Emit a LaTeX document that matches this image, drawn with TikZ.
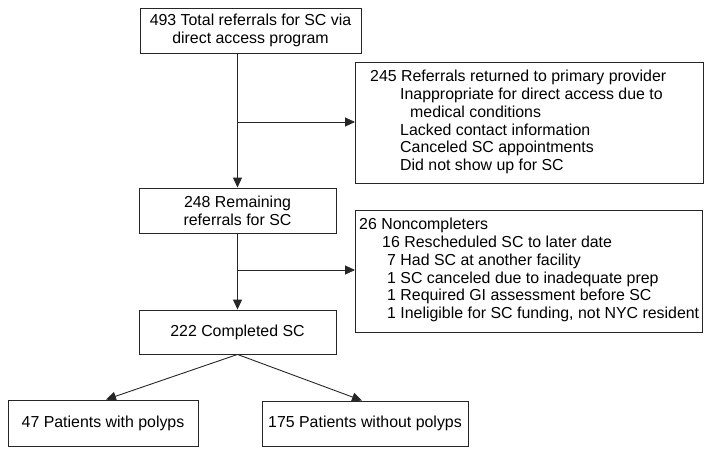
\documentclass[tikz,border=0pt]{standalone}
\usepackage{fontspec}
\setmainfont{Liberation Sans}
\usetikzlibrary{arrows.meta}
\begin{document}
\begin{tikzpicture}[x=1pt,y=1pt,
  every node/.style={font=\fontsize{15.9}{17.8}\selectfont},
  box/.style={draw=black!85, line width=0.9pt, inner sep=0pt, align=center},
  conn/.style={draw=black!85, line width=0.9pt, -{Triangle[length=10pt,width=9pt]}},
  plain/.style={draw=black!85, line width=0.9pt}]
\useasboundingbox (0,0) rectangle (713,-455);
% boxes: given by pixel extents
\node[box, minimum width=221, minimum height=45] (total) at (250.5,-30.5) {493 Total referrals for SC via\\direct access program};
\node[box, minimum width=348, minimum height=121, align=left, anchor=north west] (ret) at (355,-62) {};
\node[anchor=north west, align=left, inner sep=0pt] (rettext) at (370,-70) {245 Referrals returned to primary provider\\
\hspace*{30pt}Inappropriate for direct access due to\\
\hspace*{40pt}medical conditions\\
\hspace*{30pt}Lacked contact information\\
\hspace*{30pt}Canceled SC appointments\\
\hspace*{30pt}Did not show up for SC};
\node[box, minimum width=197, minimum height=45] (remain) at (237.5,-210.5) {248 Remaining\\referrals for SC};
\node[box, minimum width=347, minimum height=122, anchor=north west] (nonc) at (355,-210) {};
\node[anchor=north west, align=left, inner sep=0pt] (nonctext) at (359,-218) {26 Noncompleters\\
\hspace*{23pt}16 Rescheduled SC to later date\\
\hspace*{28pt}7 Had SC at another facility\\
\hspace*{28pt}1 SC canceled due to inadequate prep\\
\hspace*{28pt}1 Required GI assessment before SC\\
\hspace*{28pt}1 Ineligible for SC funding, not NYC resident};
\node[box, minimum width=197, minimum height=44] (compl) at (237.5,-332) {222 Completed SC};
\node[box, minimum width=190, minimum height=46] (with) at (103,-423) {47 Patients with polyps};
\node[box, minimum width=206, minimum height=45] (without) at (365,-423.5) {175 Patients without polyps};
% connectors
\coordinate (j1) at (237.5,-122);
\coordinate (j2) at (237.5,-270);
\draw[conn] (total.south -| remain.north) -- (remain.north);
\draw[conn] (j1) -- (j1 -| ret.west);
\draw[conn] (remain.south) -- (compl.north);
\draw[conn] (j2) -- (j2 -| nonc.west);
\draw[conn] (compl.south) -- ([xshift=3pt]with.north);
\draw[conn] (compl.south) -- ([xshift=-3pt]without.north);
\end{tikzpicture}
\end{document}
